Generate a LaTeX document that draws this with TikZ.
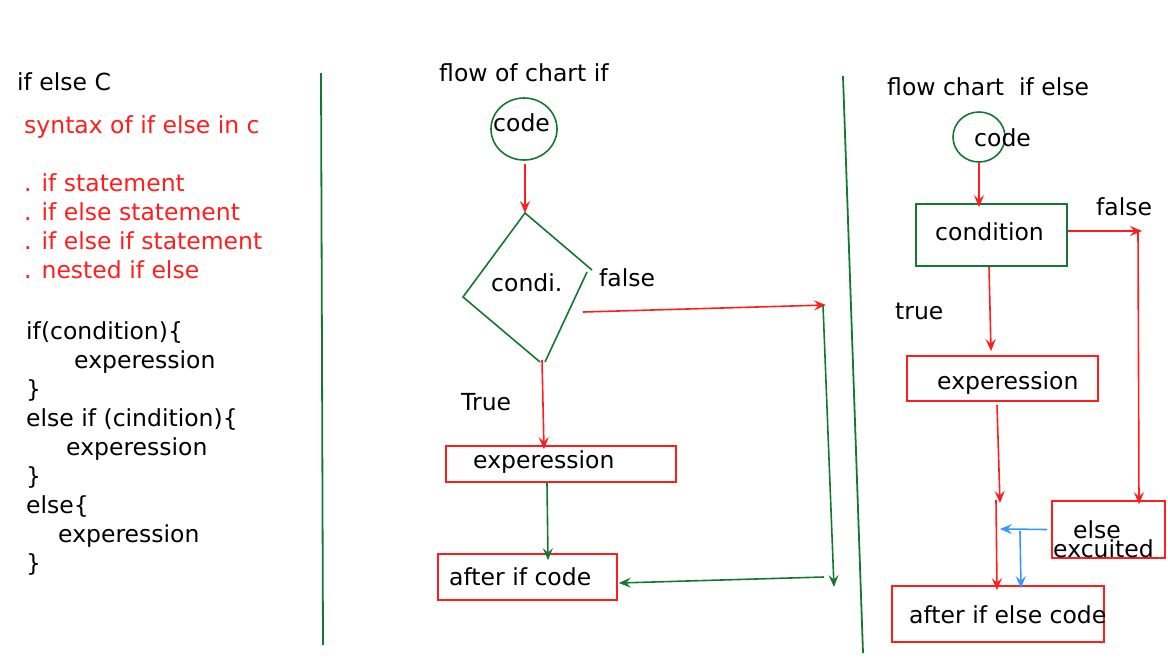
\documentclass[tikz,border=0pt]{standalone}
\usepackage{fontspec}
\setmainfont{DejaVu Sans}
\usetikzlibrary{arrows.meta,shapes.geometric}
\definecolor{rd}{RGB}{255,30,30}
\definecolor{gn}{RGB}{20,120,50}
\definecolor{bl}{RGB}{51,153,255}
\tikzset{
  txt/.style={anchor=base west,inner sep=0pt,font=\fontsize{23.5}{29}\selectfont},
  rtxt/.style={txt,text=rd},
  redbox/.style={draw=rd,line width=1.6pt,rectangle,inner sep=0pt},
  greenbox/.style={draw=gn,line width=1.6pt,rectangle,inner sep=0pt},
  oval/.style={draw=gn,line width=1.6pt,ellipse,inner sep=0pt},
  tip/.style={-{Stealth[length=12pt,width=10pt,inset=4.5pt]}},
  rarr/.style={tip,draw=rd,fill=rd,line width=1.6pt},
  garr/.style={tip,draw=gn,fill=gn,line width=1.6pt},
  barr/.style={tip,draw=bl,fill=bl,line width=1.6pt},
  sepline/.style={draw=gn,line width=1.8pt}
}
\begin{document}
\begin{tikzpicture}[x=1pt,y=-1pt]
\useasboundingbox (0,0) rectangle (1168,657);
% left column
\node[txt] (title) at (17,90) {if else C};
\node[rtxt] (syn) at (24,133) {syntax of if else in c};
\node[rtxt] (li1) at (24,191) {. if statement};
\node[rtxt] (li2) at (24,220) {. if else statement};
\node[rtxt] (li3) at (24,249) {. if else if statement};
\node[rtxt] (li4) at (24,278) {. nested if else};
\node[txt] (k1) at (26,339) {if(condition)\{};
\node[txt] (k2) at (74,368) {experession};
\node[txt] (k3) at (26,397) {\}};
\node[txt] (k4) at (26,426) {else if (cindition)\{};
\node[txt] (k5) at (66,455) {experession};
\node[txt] (k6) at (26,484) {\}};
\node[txt] (k7) at (26,513) {else\{};
\node[txt] (k8) at (58,542) {experession};
\node[txt] (k9) at (26,571) {\}};
\draw[sepline] (321,73) -- (323,645);
% middle: flow of chart if
\node[txt] (ft1) at (439,81) {flow of chart if};
\node[oval,minimum width=66pt,minimum height=62pt] (c1) at (524,129) {};
\node[txt] (c1t) at (493,131) {code};
\coordinate (dtop) at (525,213);
\coordinate (dright) at (592,270);
\coordinate (dleft) at (463,297);
\coordinate (dbl) at (540,362);
\coordinate (drt) at (587,272);
\coordinate (drb) at (545,362);
\draw[gn,line width=1.6pt] (dbl) -- (dleft) -- (dtop) -- (dright);
\draw[gn,line width=1.6pt] (drt) -- (drb);
\node[txt] (cond1) at (491,291) {condi.};
\node[txt] (false1) at (599,286) {false};
\node[txt] (true1) at (461,410) {True};
\node[redbox,minimum width=230pt,minimum height=36pt] (b1) at (561,464) {};
\node[txt] (b1t) at (473,468) {experession};
\node[redbox,minimum width=179pt,minimum height=46pt] (a1) at (527.5,577) {};
\node[txt] (a1t) at (449,585) {after if code};
\coordinate (f1) at (583,312);
\coordinate (j1) at (826,305);
\coordinate (j1b) at (823,305);
\coordinate (j2) at (834,587);
\coordinate (j3) at (824,577);
\coordinate (dbot) at (542,360);
\draw[rarr] (c1.south) ++(1,3) coordinate (c1s) -- (dtop);
\draw[rarr] (f1) -- (j1);
\draw[rarr] (dbot) -- ([xshift=-17pt,yshift=-4pt]b1.north);
\draw[garr] ([xshift=-14pt]b1.south) -- ([xshift=20.5pt,yshift=-7pt]a1.north);
\draw[garr] (j1b) -- (j2);
\draw[garr] (j3) -- ([xshift=1pt,yshift=-6pt]a1.east);
% right: flow chart if else
\draw[sepline] (843,76) -- (863,653);
\node[txt] (ft2) at (887,95) {flow chart \ if else};
\node[oval,minimum width=52pt,minimum height=50pt] (c2) at (979,137) {};
\node[txt] (c2t) at (974,146) {code};
\node[greenbox,minimum width=151pt,minimum height=62pt] (cb) at (991.5,235) {};
\node[txt] (cbt) at (935,240) {condition};
\node[txt] (false2) at (1096,215) {false};
\node[txt] (true2) at (895,319) {true};
\node[redbox,minimum width=191pt,minimum height=45pt] (b2) at (1002.5,378.5) {};
\node[txt] (b2t) at (937,389) {experession};
\node[redbox,minimum width=113pt,minimum height=57pt] (eb) at (1108.5,529.5) {};
\node[txt] (ebt1) at (1073,538) {else};
\node[txt] (ebt2) at (1053,557) {excuited};
\node[redbox,minimum width=212pt,minimum height=56pt] (a2) at (998,614) {};
\node[txt] (a2t) at (909,623) {after if else code};
\coordinate (j4) at (1142,231);
\coordinate (j4b) at (1138,231);
\coordinate (j5) at (1000,503);
\coordinate (j6) at (996,500);
\coordinate (j7) at (1000,529);
\coordinate (j8) at (1020,531);
\draw[rarr] (c2.south) -- ([xshift=-12.5pt,yshift=-4pt]cb.north);
\draw[rarr] ([yshift=4pt]cb.east) -- (j4);
\draw[rarr] (j4b) -- ([xshift=30.5pt,yshift=-4pt]eb.north);
\draw[rarr] ([xshift=-2.5pt]cb.south) -- ([xshift=-11.5pt,yshift=4pt]b2.north);
\draw[rarr] ([xshift=-5.5pt,yshift=-3pt]b2.south) -- (j5);
\draw[rarr] (j6) -- ([xshift=-1pt,yshift=-5pt]a2.north);
\draw[barr] ([xshift=-4pt]eb.west) -- (j7);
\draw[barr] (j8) -- ([xshift=23pt,yshift=-3pt]a2.north);
\end{tikzpicture}
\end{document}
